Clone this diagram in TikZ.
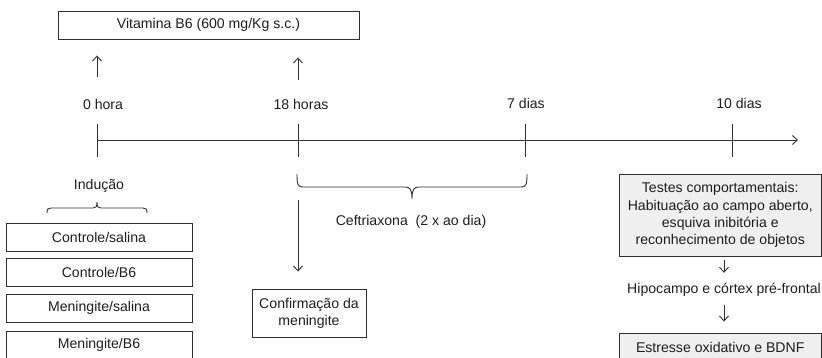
\documentclass[tikz,border=0pt]{standalone}
\usepackage{fontspec}
\setmainfont{Liberation Sans}
\usetikzlibrary{arrows.meta}
\definecolor{ink}{HTML}{1E1E1E}
\definecolor{linec}{HTML}{303030}
\definecolor{boxfill}{HTML}{EFEFEF}
\tikzset{
  txt/.style={text=ink, font=\fontsize{14.1}{17.3}\selectfont, inner sep=0pt, align=center},
  plainbox/.style={txt, draw=linec, line width=0.9pt, rectangle},
  greybox/.style={plainbox, fill=boxfill},
  lbl/.style={txt, minimum height=20pt},
  arr/.style={draw=linec, line width=0.9pt, -{Straight Barb[length=5pt,width=9pt]}},
  ln/.style={draw=linec, line width=0.9pt},
}
\begin{document}
\begin{tikzpicture}[x=1pt,y=-1pt]
\useasboundingbox (0,0) rectangle (822,357);
% top box
\node[plainbox, minimum width=301pt, minimum height=28pt] (vit) at (208.5,25) {Vitamina B6 (600 mg/Kg s.c.)};
% time labels
\node[lbl] (h0) at (103,104) {0 hora};
\node[lbl] (h18) at (301,104) {18 horas};
\node[lbl] (d7) at (526,103) {7 dias};
\node[lbl] (d10) at (739,103) {10 dias};
% timeline
\coordinate (t0) at (97,140);
\coordinate (t18) at (298,140);
\coordinate (t7) at (525,140);
\coordinate (t10) at (732,140);
\coordinate (tend) at (798,140);
\draw[arr] (t0) -- (tend);
\foreach \t in {t0,t18,t7,t10} \draw[ln] (\t) ++(0,-16) -- ++(0,33);
% arrows up to vitamin box
\draw[arr, shorten <=17pt, shorten >=16pt] (h0.north -| t0) -- (vit.south -| t0);
\draw[arr, shorten <=14pt, shorten >=18pt] (h18.north -| t18) -- (vit.south -| t18);
% Ceftriaxona brace
\draw[ln] (297,174) .. controls (297,185) and (298,187) .. (303,187) -- (405,187)
  .. controls (410,187) and (412,189) .. (412,199)
  .. controls (412,189) and (414,187) .. (419,187) -- (521,187)
  .. controls (526,187) and (527,185) .. (527,174);
\node[txt] (cef) at (411,222) {Ceftriaxona\ \ (2 x ao dia)};
% confirmation
\node[plainbox, minimum width=114pt, minimum height=48pt] (conf) at (309,313) {Confirmação da\\meningite};
\draw[arr, shorten <=60pt, shorten >=17pt] (t18) -- (conf.north -| t18);
% induction
\node[txt] (ind) at (99,186) {Indução};
\draw[ln] (47,213) .. controls (47,209) and (48,208) .. (51,208) -- (93,208)
  .. controls (96,208) and (97,207) .. (97,202)
  .. controls (97,207) and (98,208) .. (101,208) -- (143,208)
  .. controls (146,208) and (147,209) .. (147,213);
\node[plainbox, minimum width=186pt, minimum height=28pt] (g1) at (99,237) {Controle/salina};
\node[plainbox, minimum width=186pt, minimum height=28pt] (g2) at (99,272) {Controle/B6};
\node[plainbox, minimum width=186pt, minimum height=28pt] (g3) at (99,308) {Meningite/salina};
\node[plainbox, minimum width=186pt, minimum height=28pt] (g4) at (99,345) {Meningite/B6};
% right column
\node[greybox, minimum width=202.5pt, minimum height=82pt] (testes) at (720.25,215) {Testes comportamentais:\\Habituação ao campo aberto,\\esquiva inibitória e\\reconhecimento de objetos};
\node[lbl] (hip) at (724,290) {Hipocampo e córtex pré-frontal};
\node[greybox, minimum width=202.5pt, minimum height=28pt] (estr) at (720.25,347) {Estresse oxidativo e BDNF};
\draw[arr, shorten <=4pt, shorten >=7pt] (hip.north |- testes.south) -- (hip.north);
\draw[arr, shorten <=5pt, shorten >=11pt] (hip.south) -- (hip.south |- estr.north);
\end{tikzpicture}
\end{document}
